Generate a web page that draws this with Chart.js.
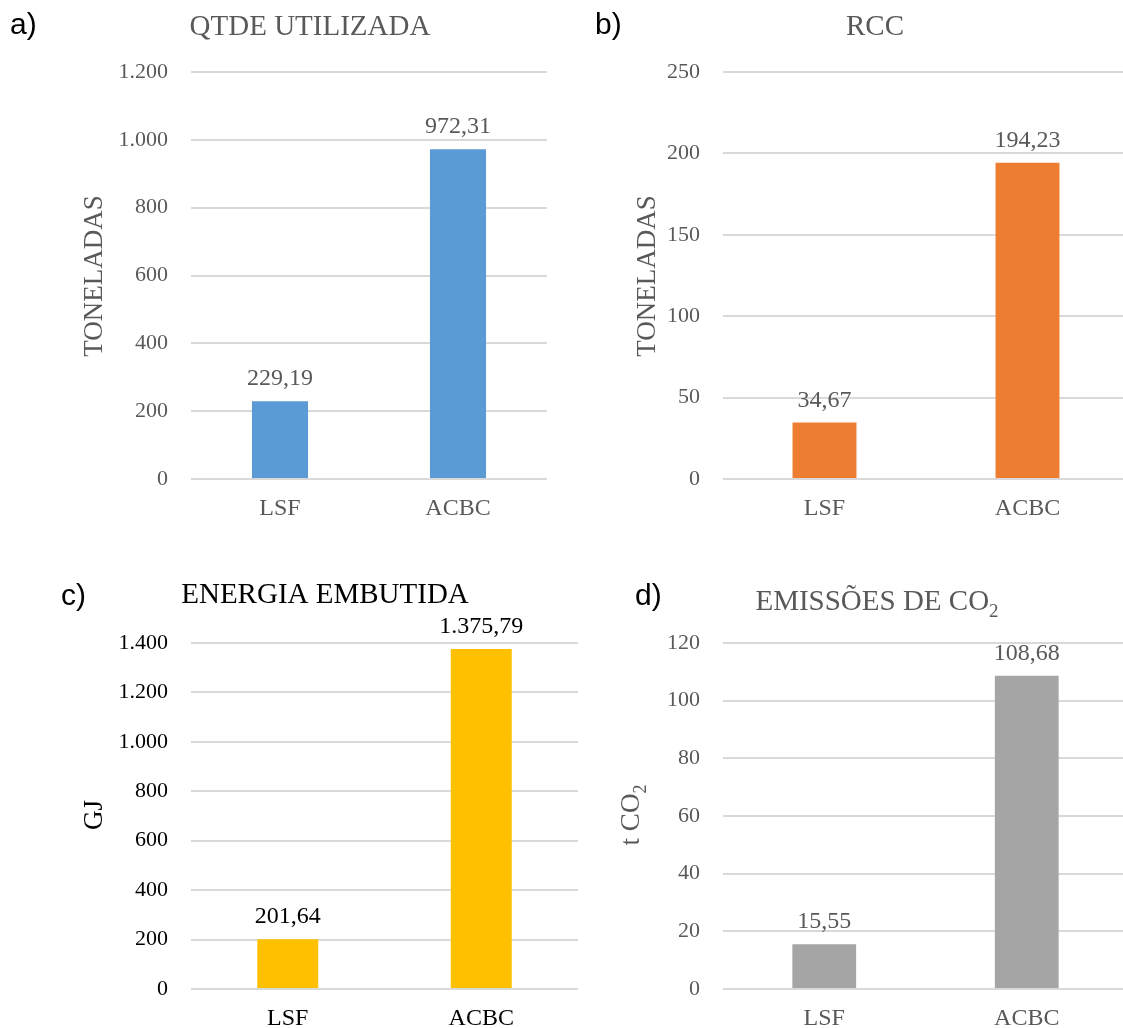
<!DOCTYPE html>
<html>
<head>
<meta charset="utf-8">
<script src="https://cdn.jsdelivr.net/npm/chart.js@4.4.1/dist/chart.umd.min.js"></script>
<style>
  html, body { margin: 0; padding: 0; background: #ffffff; }
  #wrap { position: relative; width: 1123px; height: 1028px; overflow: hidden; background: #ffffff; }
  canvas { position: absolute; }
</style>
</head>
<body>
<div id="wrap">
  <canvas id="chartA" width="580" height="545" style="left:0px;top:0px;"></canvas>
  <canvas id="chartB" width="560" height="545" style="left:580px;top:0px;"></canvas>
  <canvas id="chartC" width="600" height="480" style="left:0px;top:560px;"></canvas>
  <canvas id="chartD" width="540" height="480" style="left:600px;top:560px;"></canvas>
</div>
<script>
// ---- data ----
const categories = ['LSF', 'ACBC'];
const qtdeValues = [229.19, 972.31];      // toneladas
const rccValues = [34.67, 194.23];        // toneladas
const energiaValues = [201.64, 1375.79];  // GJ
const co2Values = [15.55, 108.68];        // t CO2

const qtdeAxis = { max: 1200, step: 200 };
const rccAxis = { max: 250, step: 50 };
const energiaAxis = { max: 1400, step: 200 };
const co2Axis = { max: 120, step: 20 };

// ---- formatting (pt-BR style: "." thousands, "," decimals) ----
function groupThousands(s) {
  return s.replace(/\B(?=(\d{3})+(?!\d))/g, '.');
}
function fmtTick(v) {
  return groupThousands(String(Math.round(v)));
}
function fmtValue(v) {
  const parts = v.toFixed(2).split('.');
  return groupThousands(parts[0]) + ',' + parts[1];
}

const SERIF = '"Liberation Serif", "Times New Roman", serif';
const SANS = '"Liberation Sans", Arial, sans-serif';
const GRAY = '#595959';
const TITLE_SIZE = 29;
const AXIS_TITLE_SIZE = 27;

Chart.defaults.devicePixelRatio = 1;
Chart.defaults.font.family = SERIF;
Chart.defaults.animation = false;

// draws text made of runs, some of which may be subscripts
function richWidth(ctx, runs, size) {
  let w = 0;
  runs.forEach(r => {
    ctx.font = (r.sub ? Math.round(size * 0.65) : size) + 'px ' + SERIF;
    w += ctx.measureText(r.t).width;
  });
  return w;
}
function drawRich(ctx, runs, size, x, y, color) {
  // x is the centre, y the baseline
  const w = richWidth(ctx, runs, size);
  let cx = x - w / 2;
  ctx.fillStyle = color;
  ctx.textAlign = 'left';
  ctx.textBaseline = 'alphabetic';
  runs.forEach(r => {
    const fs = r.sub ? Math.round(size * 0.65) : size;
    ctx.font = fs + 'px ' + SERIF;
    ctx.fillText(r.t, cx, y + (r.sub ? size * 0.25 : 0));
    cx += ctx.measureText(r.t).width;
  });
}

// panel letter, chart title, vertical axis title and value labels
const panelText = {
  id: 'panelText',
  afterDatasetsDraw(chart, args, opts) {
    const ctx = chart.ctx;
    ctx.save();
    // value labels above the bars
    const meta = chart.getDatasetMeta(0);
    const vals = chart.data.datasets[0].data;
    ctx.font = opts.valueSize + 'px ' + SERIF;
    ctx.fillStyle = opts.textColor;
    ctx.textAlign = 'center';
    ctx.textBaseline = 'alphabetic';
    meta.data.forEach((bar, i) => {
      ctx.fillText(fmtValue(vals[i]), bar.x, bar.y - 16);
    });
    // panel letter
    ctx.font = '30px ' + SANS;
    ctx.fillStyle = '#000000';
    ctx.textAlign = 'left';
    ctx.fillText(opts.letter.t, opts.letter.x, opts.letter.y);
    // chart title
    drawRich(ctx, opts.title.runs, TITLE_SIZE, opts.title.x, opts.title.y, opts.title.color);
    // rotated axis title
    ctx.translate(opts.yTitle.x, opts.yTitle.y);
    ctx.rotate(-Math.PI / 2);
    drawRich(ctx, opts.yTitle.runs, AXIS_TITLE_SIZE, 0, AXIS_TITLE_SIZE * 0.33, opts.textColor);
    ctx.restore();
  }
};

function makeChart(id, values, color, axis, box, text) {
  const textColor = text.textColor;
  return new Chart(document.getElementById(id), {
    type: 'bar',
    data: {
      labels: categories,
      datasets: [{
        data: values,
        backgroundColor: color,
        borderWidth: 0,
        categoryPercentage: 1,
        barPercentage: 0.315
      }]
    },
    options: {
      responsive: false,
      layout: { padding: { left: 0, right: box.right, top: box.top, bottom: 0 } },
      plugins: {
        legend: { display: false },
        tooltip: { enabled: false },
        title: { display: false },
        panelText: Object.assign({ valueSize: 24 }, text)
      },
      scales: {
        x: {
          grid: { display: false },
          border: { display: false },
          ticks: { color: textColor, font: { size: 24, family: SERIF }, padding: 7 },
          afterFit(scale) { scale.height = box.xHeight; }
        },
        y: {
          min: 0,
          max: axis.max,
          grid: { color: '#D9D9D9', lineWidth: 2, drawTicks: false },
          border: { display: false },
          ticks: {
            stepSize: axis.step,
            color: textColor,
            padding: 23,
            font: { size: 22, family: SERIF },
            callback: v => fmtTick(v)
          },
          afterFit(scale) { scale.width = box.yWidth; }
        }
      }
    },
    plugins: [panelText]
  });
}

// a) quantity used
makeChart('chartA', qtdeValues, '#5B9BD5', qtdeAxis,
  { right: 33, top: 72, yWidth: 191, xHeight: 66 },
  {
    textColor: GRAY,
    letter: { t: 'a)', x: 10, y: 34 },
    title: { runs: [{ t: 'QTDE UTILIZADA' }], x: 310, y: 35, color: GRAY },
    yTitle: { runs: [{ t: 'TONELADAS' }], x: 93, y: 276 }
  });

// b) RCC
makeChart('chartB', rccValues, '#ED7D31', rccAxis,
  { right: 11, top: 72, yWidth: 143, xHeight: 66 },
  {
    textColor: GRAY,
    letter: { t: 'b)', x: 15, y: 34 },
    title: { runs: [{ t: 'RCC' }], x: 295, y: 35, color: GRAY },
    yTitle: { runs: [{ t: 'TONELADAS' }], x: 66, y: 276 }
  });

// c) embodied energy
makeChart('chartC', energiaValues, '#FFC000', energiaAxis,
  { right: 22, top: 83, yWidth: 191, xHeight: 51 },
  {
    textColor: '#000000',
    letter: { t: 'c)', x: 61, y: 45 },
    title: { runs: [{ t: 'ENERGIA EMBUTIDA' }], x: 325, y: 43, color: '#000000' },
    yTitle: { runs: [{ t: 'GJ' }], x: 93, y: 255 }
  });

// d) CO2 emissions
makeChart('chartD', co2Values, '#A5A5A5', co2Axis,
  { right: 12, top: 83, yWidth: 123, xHeight: 51 },
  {
    textColor: GRAY,
    letter: { t: 'd)', x: 35, y: 45 },
    title: { runs: [{ t: 'EMISSÕES DE CO' }, { t: '2', sub: true }], x: 277, y: 50, color: GRAY },
    yTitle: { runs: [{ t: 't CO' }, { t: '2', sub: true }], x: 30, y: 255 }
  });
</script>
</body>
</html>
